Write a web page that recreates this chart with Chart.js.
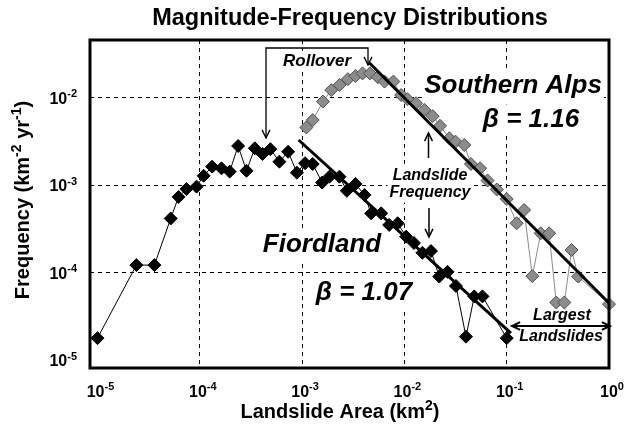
<!DOCTYPE html>
<html>
<head>
<meta charset="utf-8">
<script src="https://cdn.jsdelivr.net/npm/chart.js@4.4.1/dist/chart.umd.min.js"></script>
<style>
  html,body{margin:0;padding:0;background:#fff}
  #c{display:block}
</style>
</head>
<body>
<canvas id="c" width="631" height="435"></canvas>
<script>
// Data (landslide area km², frequency km⁻² yr⁻¹)
const fiordArea = [1e-5, 2.4e-5, 3.6e-5, 5.2e-5, 6.2e-5, 7.4e-5, 9.3e-5, 1.09e-4, 1.32e-4, 1.63e-4,
  1.96e-4, 2.37e-4, 2.86e-4, 3.45e-4, 4.1e-4, 4.9e-4, 6.0e-4, 7.3e-4, 8.9e-4, 1.07e-3,
  1.27e-3, 1.57e-3, 1.85e-3, 2.32e-3, 2.74e-3, 3.33e-3, 4.07e-3, 4.73e-3, 5.93e-3, 7.1e-3,
  8.6e-3, 1.04e-2, 1.24e-2, 1.5e-2, 1.82e-2, 2.19e-2, 2.64e-2, 3.19e-2, 4.0e-2, 4.82e-2,
  5.8e-2, 0.1];
const fiordFreq = [1.8e-5, 1.23e-4, 1.23e-4, 4.2e-4, 7.4e-4, 9.1e-4, 9.7e-4, 1.29e-3, 1.64e-3, 1.57e-3,
  1.44e-3, 2.83e-3, 1.47e-3, 2.66e-3, 2.29e-3, 2.6e-3, 1.87e-3, 2.43e-3, 1.4e-3, 1.8e-3,
  1.76e-3, 1.08e-3, 1.26e-3, 1.26e-3, 8.7e-4, 1.04e-3, 7.8e-4, 4.8e-4, 4.8e-4, 3.54e-4,
  3.7e-4, 2.6e-4, 2.2e-4, 1.7e-4, 1.78e-4, 9.1e-5, 1.03e-4, 7.1e-5, 1.87e-5, 5.4e-5,
  5.4e-5, 1.8e-5];

const alpsArea = [1.1e-3, 1.27e-3, 1.6e-3, 1.93e-3, 2.33e-3, 2.8e-3, 3.33e-3, 3.9e-3, 4.6e-3, 5.5e-3,
  6.4e-3, 7.8e-3, 9.3e-3, 1.07e-2, 1.3e-2, 1.57e-2, 1.89e-2, 2.23e-2, 2.75e-2, 3.16e-2,
  3.85e-2, 4.47e-2, 5.5e-2, 6.5e-2, 8.0e-2, 0.1, 0.125, 0.148, 0.178, 0.215,
  0.26, 0.305, 0.366, 0.43, 0.5, 1.0];
const alpsFreq = [4.6e-3, 5.6e-3, 9.1e-3, 1.23e-2, 1.41e-2, 1.64e-2, 1.78e-2, 1.91e-2, 1.91e-2, 1.73e-2,
  1.54e-2, 1.54e-2, 1.08e-2, 9.7e-3, 8.7e-3, 7.3e-3, 6.2e-3, 4.8e-3, 3.46e-3, 3.17e-3,
  2.9e-3, 1.76e-3, 1.57e-3, 1.14e-3, 9.0e-4, 7.0e-4, 3.7e-4, 5.25e-4, 9.2e-5, 2.84e-4,
  2.84e-4, 4.6e-5, 4.6e-5, 1.83e-4, 9.1e-5, 4.4e-5];

// power-law fits (end points)
const fiordFitArea = [9.25e-4, 0.11];
const fiordFitFreq = [3.31e-3, 2.05e-5];
const alpsFitArea = [4.56e-3, 1.0];
const alpsFitFreq = [2.51e-2, 4.54e-5];

const xTicks = [1e-5, 1e-4, 1e-3, 1e-2, 1e-1, 1];
const xTickExp = ['-5', '-4', '-3', '-2', '-1', '0'];
const yTicks = [1e-5, 1e-4, 1e-3, 1e-2];
const yTickExp = ['-5', '-4', '-3', '-2'];

const FONT = '"Liberation Sans", Arial, Helvetica, sans-serif';
const pts = (xs, ys) => xs.map((x, i) => ({x, y: ys[i]}));
const isEdge = (v, lo, hi) => Math.abs(Math.log10(v) - lo) < 1e-6 || Math.abs(Math.log10(v) - hi) < 1e-6;

// text with superscript parts: [[text, sup?], ...]
function supText(ctx, parts, x, y, size, align, style){
  const base = `${style||'bold'} ${size}px ${FONT}`;
  const small = `${style||'bold'} ${Math.round(size*0.68)}px ${FONT}`;
  let w = 0;
  parts.forEach(([t, s]) => { ctx.font = s ? small : base; w += ctx.measureText(t).width; });
  let cx = align === 'right' ? x - w : align === 'left' ? x : x - w/2;
  ctx.textAlign = 'left'; ctx.textBaseline = 'alphabetic';
  parts.forEach(([t, s]) => {
    ctx.font = s ? small : base;
    ctx.fillText(t, cx, s ? y - size*0.42 : y);
    cx += ctx.measureText(t).width;
  });
}

function label(ctx, txt, x, y, size, box){
  ctx.font = `italic bold ${size}px ${FONT}`;
  ctx.textAlign = 'center'; ctx.textBaseline = 'middle';
  if (box) {
    const w = ctx.measureText(txt).width;
    ctx.fillStyle = '#fff';
    ctx.fillRect(x - w/2 - 2, y - size*0.6, w + 4, size*1.2);
  }
  ctx.fillStyle = '#000';
  ctx.fillText(txt, x, y);
}

function arrowHead(ctx, x, y, ang, len, spread){
  ctx.beginPath();
  ctx.moveTo(x - len*Math.cos(ang - spread), y - len*Math.sin(ang - spread));
  ctx.lineTo(x, y);
  ctx.lineTo(x - len*Math.cos(ang + spread), y - len*Math.sin(ang + spread));
  ctx.stroke();
}
function arrow(ctx, x1, y1, x2, y2, len){
  ctx.beginPath(); ctx.moveTo(x1, y1); ctx.lineTo(x2, y2); ctx.stroke();
  arrowHead(ctx, x2, y2, Math.atan2(y2 - y1, x2 - x1), len || 8, 0.45);
}

const deco = {
  id: 'deco',
  beforeDatasetsDraw(chart){
    const ctx = chart.ctx;
    ctx.save();
    label(ctx, 'Southern Alps', 513, 86, 26, true);
    label(ctx, 'β = 1.16', 531, 120, 26, true);
    label(ctx, 'Fiordland', 322, 245, 26, true);
    label(ctx, 'β = 1.07', 364, 293, 26, true);
    label(ctx, 'Rollover', 317, 61, 17, true);
    label(ctx, 'Landslide', 430, 176, 16, true);
    label(ctx, 'Frequency', 430, 193, 16, true);
    label(ctx, 'Largest', 562, 316, 16, true);
    label(ctx, 'Landslides', 561, 337, 16, true);
    ctx.restore();
  },
  afterDatasetsDraw(chart){
    const {ctx, chartArea: a} = chart;
    ctx.save();
    ctx.strokeStyle = '#000';
    // frame
    ctx.lineWidth = 3;
    ctx.strokeRect(a.left, a.top, a.right - a.left, a.bottom - a.top);
    // rollover bracket
    ctx.lineWidth = 1.3;
    ctx.beginPath();
    ctx.moveTo(266, 138); ctx.lineTo(266, 48); ctx.lineTo(368, 48); ctx.lineTo(368, 65);
    ctx.stroke();
    arrowHead(ctx, 266, 138, Math.PI/2, 9, 0.45);
    arrowHead(ctx, 368, 65, Math.PI/2, 9, 0.45);
    // landslide frequency arrows
    ctx.lineWidth = 1.5;
    arrow(ctx, 428.5, 158, 428.5, 133, 9);
    arrow(ctx, 429, 208, 429, 237, 9);
    // largest landslides
    ctx.lineWidth = 2;
    arrow(ctx, 560, 326, 512, 326, 9);
    arrow(ctx, 560, 326, 610, 326, 9);
    ctx.restore();
  },
  afterDraw(chart){
    const ctx = chart.ctx;
    const xs = chart.scales.x, ys = chart.scales.y;
    ctx.save();
    ctx.fillStyle = '#000';
    xTicks.forEach((v, i) => {
      supText(ctx, [['10', false], [xTickExp[i], true]], xs.getPixelForValue(v) + 3, 397, 16, 'center');
    });
    yTicks.forEach((v, i) => {
      supText(ctx, [['10', false], [yTickExp[i], true]], 77, ys.getPixelForValue(v) + 6, 16, 'right');
    });
    // titles
    supText(ctx, [['Magnitude-Frequency Distributions', false]], 350, 25, 23.5, 'center');
    supText(ctx, [['Landslide Area (km', false], ['2', true], [')', false]], 340, 418, 20, 'center');
    ctx.translate(29, 200);
    ctx.rotate(-Math.PI/2);
    supText(ctx, [['Frequency (km', false], ['-2', true], [' yr', false], ['-1', true], [')', false]], 0, 0, 20, 'center');
    ctx.restore();
  }
};

new Chart(document.getElementById('c'), {
  type: 'scatter',
  data: {
    datasets: [
      { label: 'Southern Alps fit', data: pts(alpsFitArea, alpsFitFreq), showLine: true,
        borderColor: '#000', borderWidth: 3, pointRadius: 0, clip: false },
      { label: 'Fiordland fit', data: pts(fiordFitArea, fiordFitFreq), showLine: true,
        borderColor: '#000', borderWidth: 3, pointRadius: 0, clip: false },
      { label: 'Fiordland', data: pts(fiordArea, fiordFreq), showLine: true,
        borderColor: '#000', borderWidth: 1, pointStyle: 'rectRot', pointRadius: 6.5,
        pointBackgroundColor: '#000', pointBorderColor: '#000', pointBorderWidth: 1, clip: false },
      { label: 'Southern Alps', data: pts(alpsArea, alpsFreq), showLine: true,
        borderColor: '#8a8a8a', borderWidth: 1, pointStyle: 'rectRot', pointRadius: 6.5,
        pointBackgroundColor: '#8c8c8c', pointBorderColor: '#505050', pointBorderWidth: 1, clip: false }
    ]
  },
  options: {
    responsive: false,
    animation: false,
    layout: { padding: { top: 40, right: 22, left: 0, bottom: 0 } },
    plugins: { legend: { display: false }, tooltip: { enabled: false } },
    scales: {
      x: {
        type: 'logarithmic', min: 8.45e-6, max: 1,
        afterBuildTicks: s => { s.ticks = xTicks.map(v => ({value: v})); },
        afterFit: s => { s.height = 67; },
        ticks: { display: false },
        border: { display: false, dash: [4, 4] },
        grid: { drawTicks: false, lineWidth: 1,
          color: c => (c.tick && isEdge(c.tick.value, -5, 0)) ? 'rgba(0,0,0,0)' : '#000' }
      },
      y: {
        type: 'logarithmic', min: 8.2e-6, max: 0.046,
        afterBuildTicks: s => { s.ticks = yTicks.map(v => ({value: v})); },
        afterFit: s => { s.width = 90; },
        ticks: { display: false },
        border: { display: false, dash: [4, 4] },
        grid: { drawTicks: false, lineWidth: 1,
          color: c => (c.tick && isEdge(c.tick.value, -5, 1)) ? 'rgba(0,0,0,0)' : '#000' }
      }
    }
  },
  plugins: [deco]
});
</script>
</body>
</html>
